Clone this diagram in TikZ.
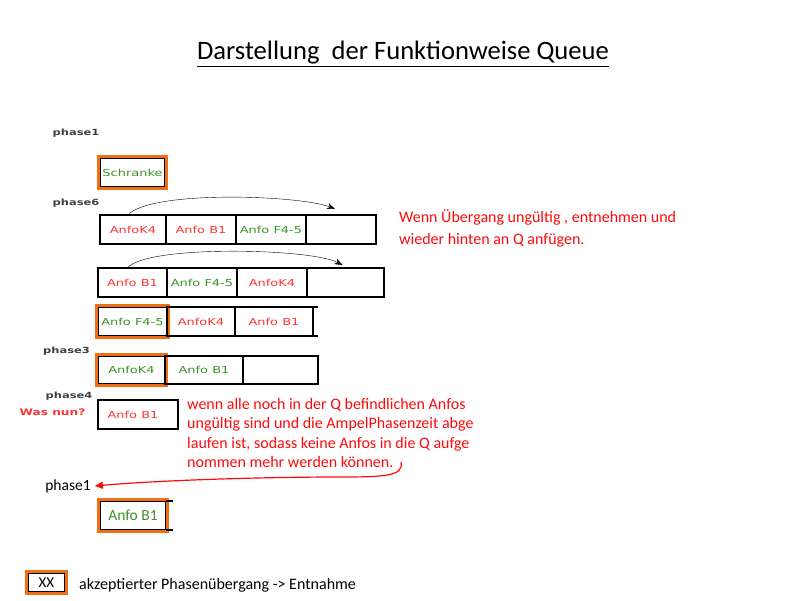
\documentclass[tikz,border=0pt]{standalone}
\usepackage{fontspec}
\setmainfont{Carlito}
\newfontfamily\verd{DejaVu Sans}
\usetikzlibrary{arrows.meta, positioning, fit}
\definecolor{ampelrot}{RGB}{255,10,10}
\definecolor{anforot}{RGB}{255,50,50}
\definecolor{anfogruen}{RGB}{60,145,40}
\definecolor{rahmen}{RGB}{240,110,20}
\newcommand{\klein}[1]{\scalebox{1.35}[1]{\verd\fontsize{9.6}{10}\selectfont #1}}
\newcommand{\phlabel}[1]{\scalebox{1.35}[1]{\verd\bfseries\fontsize{8.5}{10}\selectfont #1}}
\tikzset{
  cell/.style={draw, line width=1.2pt, minimum height=29pt, inner sep=0pt, outer sep=0pt},
  rot/.style={text=anforot},
  gruen/.style={text=anfogruen},
  accept/.style={draw=rahmen, line width=2.5pt, inner sep=1.5pt},
  phase/.style={text=black!75, inner sep=0pt},
  bogen/.style={-{Stealth[length=8pt,width=6pt]}, thin},
}

\begin{document}
\begin{tikzpicture}[x=1pt, y=-1pt]
  \useasboundingbox (0,0) rectangle (800,600);

  % Titel
  \node[font=\fontsize{26.6}{30}\selectfont] (titel) at (403,54) {\underline{Darstellung\ \ der Funktionweise Queue}};

  % phase1 - Schranke
  \node[phase] (p1) at (76,133) {\phlabel{phase1}};
  \node[cell, minimum width=65pt, gruen] (s1) at (132.5,172.5) {\klein{Schranke}};
  \node[accept, fit=(s1)] (s1f) {};

  % phase6
  \node[phase] (p6) at (76,203) {\phlabel{phase6}};
  \node[cell, minimum width=66pt, rot] (r1a) at (133,229.5) {\klein{AnfoK4}};
  \node[cell, minimum width=70pt, rot, right=0pt of r1a] (r1b) {\klein{Anfo B1}};
  \node[cell, minimum width=70pt, gruen, line width=1.8pt, right=0pt of r1b] (r1c) {\klein{Anfo F4-5}};
  \node[cell, minimum width=70pt, right=0pt of r1c] (r1d) {};
  \draw[line width=2.2pt] (r1d.north east) -- (r1d.south east);
  \draw[bogen] ([xshift=-5pt]r1a.north) .. controls (150,190) and (300,195) .. ([xshift=-6pt,yshift=6pt]r1d.north);

  \node[text=ampelrot, anchor=north west, inner sep=0pt, align=left,
        font=\fontsize{16}{22}\selectfont] (txt1) at (399,209)
        {Wenn Übergang ungültig , entnehmen und\\wieder hinten an Q anfügen.};

  \node[cell, minimum width=69pt, rot] (r2a) at (132.5,282.5) {\klein{Anfo B1}};
  \node[cell, minimum width=70pt, gruen, line width=1.8pt, right=0pt of r2a] (r2b) {\klein{Anfo F4-5}};
  \node[cell, minimum width=70pt, rot, right=0pt of r2b] (r2c) {\klein{AnfoK4}};
  \node[cell, minimum width=77pt, right=0pt of r2c] (r2d) {};
  \draw[bogen] ([xshift=-5pt]r2a.north) .. controls (145,245) and (310,248) .. ([xshift=-3pt,yshift=3pt]r2d.north);

  \node[cell, minimum width=69pt, gruen, line width=1.8pt] (r3a) at (132.5,321.5) {\klein{Anfo F4-5}};
  \node[accept, fit=(r3a)] (r3f) {};
  \node[cell, minimum width=68pt, rot, right=0pt of r3a] (r3b) {\klein{AnfoK4}};
  \node[cell, minimum width=78pt, rot, right=0pt of r3b] (r3c) {\klein{Anfo B1}};
  \draw[line width=1.2pt] (r3c.north east) -- ++(5,0);
  \draw[line width=1.2pt] (r3c.south east) -- ++(5,0);

  % phase3
  \node[phase] (p3) at (66.5,351) {\phlabel{phase3}};
  \node[cell, minimum width=67pt, minimum height=28pt, gruen] (r4a) at (131.5,370) {\klein{AnfoK4}};
  \node[accept, fit=(r4a)] (r4f) {};
  \node[cell, minimum width=78pt, minimum height=28pt, gruen, right=0pt of r4a] (r4b) {\klein{Anfo B1}};
  \node[cell, minimum width=75pt, minimum height=28pt, right=0pt of r4b] (r4c) {};
  \draw[line width=2.2pt] (r4c.north east) -- (r4c.south east);

  % phase4
  \node[phase] (p4) at (69,396) {\phlabel{phase4}};
  \node[text=anforot, inner sep=0pt] (nun) at (52.5,412)
        {\scalebox{1.35}[1]{\verd\bfseries\fontsize{9}{10}\selectfont Was nun?}};
  \node[cell, minimum width=80pt, rot] (r5) at (138,414.5) {\klein{Anfo B1}\hspace*{10pt}};
  \draw[line width=2.5pt] (r5.north west) -- (r5.south west);

  \node[text=ampelrot, anchor=north west, inner sep=0pt, align=left,
        font=\fontsize{16}{19.5}\selectfont] (txt2) at (187,398)
        {wenn alle noch in der Q befindlichen Anfos\\ungültig sind und die AmpelPhasenzeit abge\\laufen ist, sodass keine Anfos in die Q aufge\\nommen mehr werden können.};
  \coordinate (kurve) at (401,462);

  % phase1
  \node[font=\fontsize{15.5}{18}\selectfont, inner sep=1pt] (p1b) at (68,486) {phase1};
  \draw[ampelrot, line width=1.2pt, -{Triangle[length=8pt,width=7pt]}]
    (kurve) .. controls (404,476) and (385,477) .. (340,477)
    .. controls (250,477) and (150,481) .. ([xshift=3pt]p1b.east);
  \node[cell, minimum width=66pt, text=anfogruen, font=\fontsize{15.5}{18}\selectfont] (e1) at (133,515.5) {Anfo B1};
  \node[accept, fit=(e1)] (e1f) {};
  \draw[line width=1.2pt] (e1.north east) -- ++(7,0);
  \draw[line width=1.2pt] (e1.south east) -- ++(7,0);

  % Legende
  \node[cell, minimum width=37pt, minimum height=19pt, line width=2pt, font=\fontsize{15}{16}\selectfont] (leg) at (46.5,582.5) {XX};
  \node[accept, fit=(leg)] (legf) {};
  \node[anchor=west, inner sep=0pt, font=\fontsize{16}{18}\selectfont] (legtxt) at (79,585) {akzeptierter Phasenübergang -> Entnahme};
\end{tikzpicture}
\end{document}
